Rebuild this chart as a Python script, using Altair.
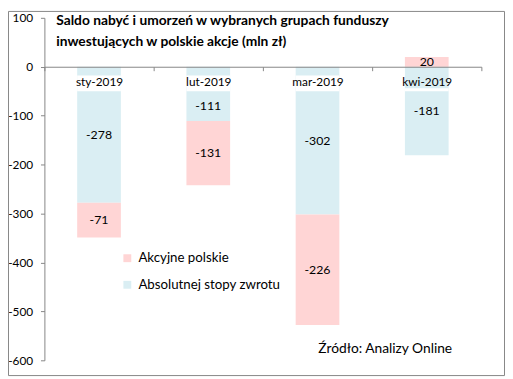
import altair as alt
import pandas as pd

months = ["sty-2019", "lut-2019", "mar-2019", "kwi-2019"]
akcyjne = [-71, -131, -226, 20]
absolutnej = [-278, -111, -302, -181]
series = ["Akcyjne polskie", "Absolutnej stopy zwrotu"]
colors = ["#FFD5D5", "#DAEEF3"]
y_ticks = [100, 0, -100, -200, -300, -400, -500, -600]
title_lines = ["Saldo nabyć i umorzeń w wybranych grupach funduszy",
               "inwestujących w polskie akcje (mln zł)"]
source_text = "Źródło: Analizy Online"

# white boxes behind category names (data units)
box_top = [-18, -18, -18, -44]
box_bottom = -50

W, H = 444, 348
FONT = "Lato"
GRAY = "#868686"

rows = []
for m, a, b in zip(months, akcyjne, absolutnej):
    pos, neg = 0, 0
    for s, v in ((series[1], b), (series[0], a)):
        if v >= 0:
            start, end = pos, pos + v
            pos = end
        else:
            start, end = neg, neg + v
            neg = end
        mid = (start + end) / 2
        if v < 0 and start == 0 and mid > box_bottom - 12:
            mid = (box_bottom + end) / 2
        rows.append({"month": m, "series": s, "start": start, "end": end,
                     "value": str(v), "label_y": mid})
df = pd.DataFrame(rows)
boxes = pd.DataFrame({"month": months, "start": box_top, "end": [box_bottom] * 4})

x_scale = alt.Scale(domain=months, paddingInner=0, paddingOuter=0)
y_scale = alt.Scale(domain=[-600, 100], nice=False, zero=False)
x_axis = alt.Axis(orient="bottom", offset=-(H * 600 / 700), tickBand="extent",
                  tickSize=4, tickColor=GRAY, domainColor=GRAY, labelFontSize=12,
                  labelColor="black", labelFont=FONT, labelPadding=6, labelAngle=0,
                  title=None, zindex=1)
y_axis = alt.Axis(values=y_ticks, tickSize=4, tickColor=GRAY, domainColor=GRAY,
                  labelFontSize=12, labelColor="black", labelFont=FONT,
                  labelPadding=8, grid=False, title=None,
                  labelExpr="toString(datum.value)")

X = alt.X("month:N", scale=x_scale, axis=x_axis, sort=months)

bars = alt.Chart(df).mark_bar(width={"band": 0.4}).encode(
    x=X,
    y=alt.Y("start:Q", scale=y_scale, axis=y_axis),
    y2="end:Q",
    color=alt.Color("series:N", scale=alt.Scale(domain=series, range=colors),
                    legend=alt.Legend(orient="none", legendX=77.5, legendY=237.5,
                                      title=None, symbolType="square", symbolSize=64,
                                      labelFontSize=13.5, labelFont=FONT,
                                      labelColor="black", rowPadding=12, padding=0,
                                      symbolStrokeWidth=0, labelOffset=4.5)),
)

white = alt.Chart(boxes).mark_bar(width={"band": 0.4}, color="white").encode(
    x=X,
    y=alt.Y("start:Q", scale=y_scale, axis=y_axis),
    y2="end:Q",
)

labels = alt.Chart(df).mark_text(fontSize=12.5, font=FONT, color="black",
                                 baseline="middle").encode(
    x=X,
    y=alt.Y("label_y:Q", scale=y_scale, axis=y_axis),
    text="value:N",
)

one = pd.DataFrame({"a": [0]})
t1 = alt.Chart(one).mark_text(text=title_lines[0], align="left", baseline="alphabetic",
                              fontSize=14, fontWeight="bold", font=FONT,
                              color="black").encode(x=alt.value(12), y=alt.value(7.7))
t2 = alt.Chart(one).mark_text(text=title_lines[1], align="left", baseline="alphabetic",
                              fontSize=14, fontWeight="bold", font=FONT,
                              color="black").encode(x=alt.value(12), y=alt.value(28.5))
src = alt.Chart(one).mark_text(text=source_text, align="left", baseline="alphabetic",
                               fontSize=14, font=FONT, color="black").encode(
    x=alt.value(278.3), y=alt.value(340.5))
border = alt.Chart(one).mark_rect(fill=None, stroke=GRAY, strokeWidth=1).encode(
    x=alt.value(-36.5), x2=alt.value(467.5), y=alt.value(-6.5), y2=alt.value(363.5))

chart = alt.layer(bars, white, labels, t1, t2, src, border).properties(
    width=W, height=H,
    autosize=alt.AutoSizeParams(type="none"),
    padding={"left": 37, "top": 7, "right": 24, "bottom": 16},
    background="white",
).configure_view(stroke=None)

chart.save("out.html", embed_options={"renderer": "svg", "actions": False})
